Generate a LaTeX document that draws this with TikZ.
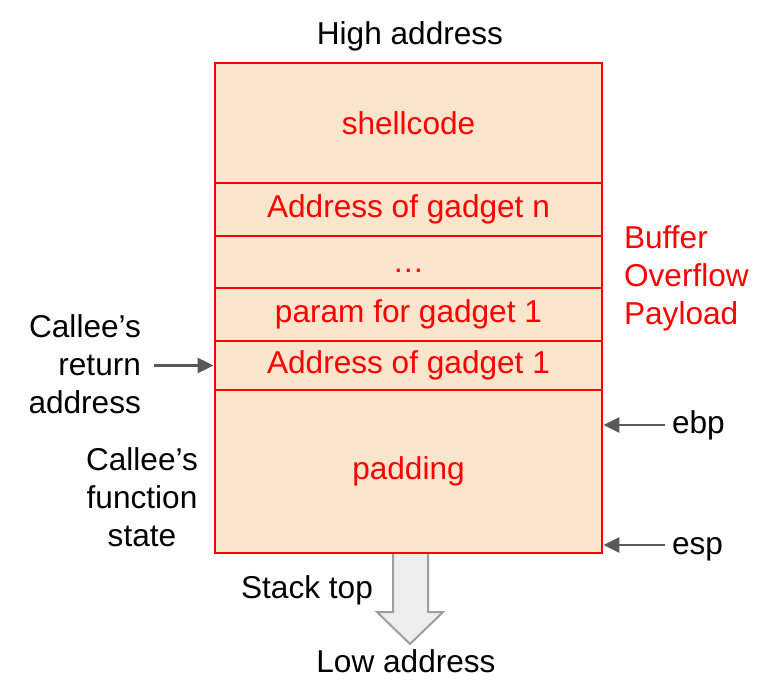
\documentclass[tikz,border=0pt]{standalone}
\usepackage{fontspec}
\setmainfont{Liberation Sans}
\usetikzlibrary{arrows.meta}
\definecolor{peach}{HTML}{FCE5CD}
\definecolor{ptrgray}{HTML}{595959}
\definecolor{arrfill}{HTML}{EEEEEE}
\definecolor{arrline}{HTML}{9E9E9E}
\begin{document}
\begin{tikzpicture}[x=0.5pt,y=-0.5pt,>={Triangle[length=8pt,width=7.5pt]},
  font=\fontsize{15.8}{19}\selectfont,
  cell/.style={draw=red,line width=1.4pt,fill=peach,text=red,minimum width=193.5pt,inner sep=0pt},
  ptr/.style={->,ptrgray,line width=1.4pt}]
\useasboundingbox (0,0) rectangle (780,690);

% stack grows down
\draw[draw=arrline,fill=arrfill,line width=1pt] (393,553) -- (393,612) -- (377,612) -- (410,644) -- (443,612) -- (428,612) -- (428,553);

\node[cell,minimum height=60pt] (shell) at (408.5,123) {shellcode};
\node[cell,minimum height=26.5pt] (gadn) at (408.5,209.5) {Address of gadget n};
\node[cell,minimum height=26pt,text height=2ex] (dots) at (408.5,262) {…};
\node[cell,minimum height=26.5pt] (param) at (408.5,314.5) {param for gadget 1};
\node[cell,minimum height=24.5pt] (gad1) at (408.5,365.5) {Address of gadget 1};
\node[cell,minimum height=81.5pt] (pad) at (408.5,471.5) {padding};

\node (high) at (410,36) {High address};
\node (low) at (406,661) {Low address};
\node (top) at (307,590) {Stack top};
\node[text=red,align=left,anchor=west] (payload) at (617,278) {Buffer\\Overflow\\Payload};

\node[align=right,anchor=east] (ret) at (148,364) {Callee’s\\return\\address};
\draw[ptr] ([xshift=3pt]ret.east |- gad1.west) -- (gad1.west);
\node[align=center] (state) at (142,497) {Callee’s\\function\\state};

\node[anchor=west] (ebp) at (665,425) {ebp};
\node[anchor=west] (esp) at (665,549) {esp};
\draw[ptr] (ebp.west) -- (ebp.west -| pad.east);
\draw[ptr] ([yshift=2pt]esp.west) -- ([yshift=2pt]esp.west -| pad.east);
\end{tikzpicture}
\end{document}
